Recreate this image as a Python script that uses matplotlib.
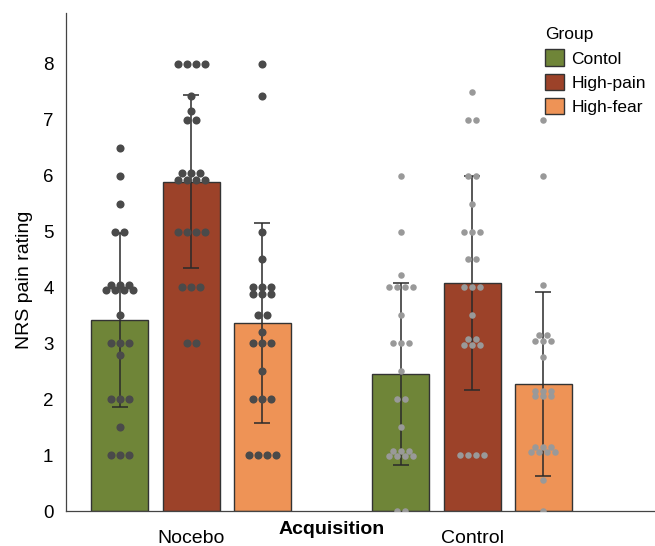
import numpy as np
import matplotlib.pyplot as plt
from matplotlib.patches import Patch
from matplotlib.transforms import blended_transform_factory

plt.rcParams['font.family'] = ['Liberation Sans', 'DejaVu Sans']

conditions = ['Nocebo', 'Control']
groups = ['Contol', 'High-pain', 'High-fear']
bar_colors = ['#6f8538', '#9c4229', '#ee9356']
dot_colors = ['#4a4a4a', '#999999']

# bar heights and standard deviations (rows: condition, cols: group)
means = np.array([[3.42, 5.89, 3.36],
                  [2.45, 4.08, 2.27]])
sds = np.array([[1.56, 1.55, 1.79],
                [1.63, 1.92, 1.64]])

# individual ratings
nocebo_contol = [6.5, 6, 5.5, 5, 5, 4.05, 4.05, 4.05, 3.95, 3.95, 3.95, 3.95,
                 3.5, 3, 3, 3, 2.8, 2, 2, 2, 1.5, 1, 1, 1]
nocebo_highpain = [8, 8, 8, 8, 7.43, 7.15, 7, 7, 6.05, 6.05, 6.05,
                   5.93, 5.93, 5.93, 5.93, 5, 5, 5, 5, 4, 4, 4, 3, 3]
nocebo_highfear = [8, 7.43, 5, 4.5, 4, 4, 4, 3.89, 3.89, 3.89, 3.5, 3.5,
                   3.2, 3, 3, 3, 2.5, 2, 2, 2, 1, 1, 1, 1]
control_contol = [6, 5, 4.23, 4, 4, 4, 4, 3.5, 3, 3, 3, 2.5, 2, 2, 1.5,
                  1.07, 1.07, 1.07, 0.98, 0.98, 0.98, 0.98, 0, 0]
control_highpain = [7.5, 7, 7, 6, 6, 5.5, 5, 5, 5, 4.5, 4.5, 4, 4, 4, 3.5,
                    3.07, 3.07, 2.97, 2.97, 2.97, 1, 1, 1, 1]
control_highfear = [7, 6, 4.05, 3.14, 3.14, 3.05, 3.05, 3.05, 2.75,
                    2.14, 2.14, 2.14, 2.05, 2.05, 2.05, 1.14, 1.14, 1.14,
                    1.05, 1.05, 1.05, 1.05, 0.55, 0]

ratings = [[nocebo_contol, nocebo_highpain, nocebo_highfear],
           [control_contol, control_highpain, control_highfear]]


def swarm_x(vals, center, step):
    vals = np.asarray(vals, dtype=float)
    xs = np.empty_like(vals)
    for v in np.unique(vals):
        idx = np.where(vals == v)[0]
        n = len(idx)
        xs[idx] = center + (np.arange(n) - (n - 1) / 2) * step
    return xs


fig = plt.figure(figsize=(6.55, 5.46), dpi=100)
ax = fig.add_axes([66 / 655, 35 / 546, 589 / 655, 498 / 546])

offset = 0.253
width = 0.203
dot_step = [0.032, 0.0285]
dot_size = [34, 22]

for i, cond in enumerate(conditions):
    for j, grp in enumerate(groups):
        x = i + (j - 1) * offset
        ax.bar(x, means[i, j], width=width, color=bar_colors[j],
               edgecolor='#333333', linewidth=1.0, zorder=2)
        ax.errorbar(x, means[i, j], yerr=sds[i, j], fmt='none', ecolor='#2a2a2a',
                    elinewidth=1.1, capsize=6, capthick=1.1, zorder=3)
        vals = ratings[i][j]
        ax.scatter(swarm_x(vals, x, dot_step[i]), vals, s=dot_size[i],
                   color=dot_colors[i], linewidths=0, zorder=4)

ax.set_xlim(-0.445, 1.651)
ax.set_ylim(0, 8.91)
ax.set_xticks([0, 1])
ax.set_xticklabels(conditions, fontsize=14)
ax.set_yticks(range(0, 9))
ax.tick_params(axis='y', length=0, pad=9, labelsize=13.5)
ax.tick_params(axis='x', length=0, pad=14, labelsize=14)
ax.set_ylabel('NRS pain rating', fontsize=14)
ax.yaxis.set_label_coords(-0.056, 0.464)

trans = blended_transform_factory(ax.transData, ax.transAxes)
ax.text(0.5, -0.037, 'Acquisition', transform=trans, ha='center', va='center',
        fontsize=14, fontweight='bold')

for s in ['top', 'right']:
    ax.spines[s].set_visible(False)
for s in ['left', 'bottom']:
    ax.spines[s].set_color('#444444')
    ax.spines[s].set_linewidth(0.9)

handles = [Patch(facecolor=c, edgecolor='#333333', linewidth=1.0) for c in bar_colors]
ax.legend(handles, groups, title='Group', loc='upper left',
          bbox_to_anchor=(0.808, 0.978), frameon=False, fontsize=12.5,
          title_fontsize=12.5, alignment='left', handlelength=1.1,
          handleheight=1.1, handletextpad=0.4, labelspacing=0.4,
          borderaxespad=0, borderpad=0.2)

fig.savefig('out.png', dpi=100)
